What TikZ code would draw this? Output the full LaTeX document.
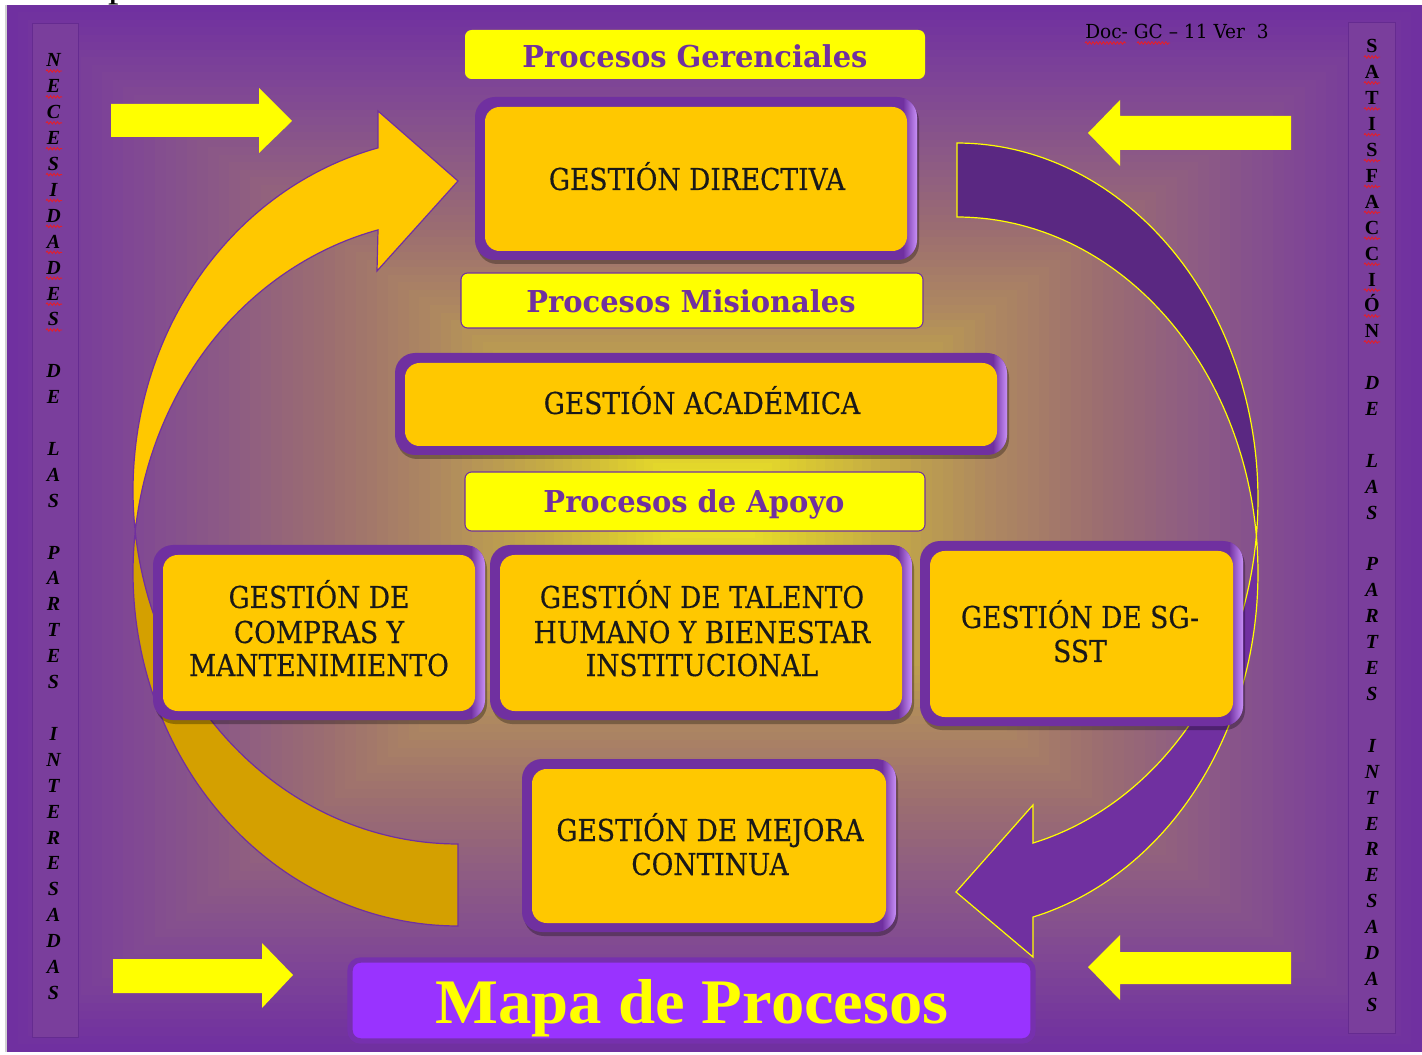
\documentclass[tikz,border=0pt]{standalone}
\usepackage{fontspec}
\usetikzlibrary{decorations.pathmorphing}
\newfontfamily\boxf[FakeStretch=0.88,FakeBold=0.35]{DejaVu Serif}
\newfontfamily\labf[FakeStretch=0.96]{DejaVu Serif}
\newfontfamily\docf[FakeStretch=0.96]{DejaVu Serif}
\newfontfamily\mapf[FakeStretch=1.05]{Liberation Serif}
\newfontfamily\sidef{Liberation Serif}
\definecolor{pur}{HTML}{7030A0}
\definecolor{purdark}{HTML}{5A2882}
\definecolor{purhi}{HTML}{C890F8}
\definecolor{yel}{HTML}{FFC800}
\definecolor{yeldark}{HTML}{D4A000}
\definecolor{lyel}{HTML}{FFFF00}
\definecolor{mapbg}{HTML}{9933FF}
\definecolor{stripc}{HTML}{7A3E9C}
\definecolor{wavy}{HTML}{E0202F}
\definecolor{bga}{HTML}{7030A0}
\definecolor{bgb}{HTML}{7E4596}
\definecolor{bgc}{HTML}{8C5A85}
\definecolor{bgd}{HTML}{9C6E70}
\definecolor{bge}{HTML}{AE8860}
\definecolor{bgf}{HTML}{C4AA45}
\definecolor{bgg}{HTML}{DCCC30}
\definecolor{bgh}{HTML}{F4F020}
\newcommand{\procbox}[4]{%
  \fill[black,opacity=0.3,rounded corners=15pt] (#1+2,#2+4) rectangle (#3+2,#4+4);
  \fill[pur,rounded corners=15pt] (#1,#2) rectangle (#3,#4);
  \begin{scope}
    \clip[rounded corners=15pt] (#1,#2) rectangle (#3,#4);
    \shade[left color=pur,right color=purhi] (#3-14,#2) rectangle (#3,#4);
  \end{scope}
  \fill[yel,rounded corners=11pt] (#1+10,#2+10) rectangle (#3-10,#4-9);
}
\tikzset{
  boxtxt/.style={anchor=base,inner sep=0,font=\boxf\fontsize{22.6}{25.5}\selectfont,text=black!90},
  labtxt/.style={anchor=base,inner sep=0,font=\labf\bfseries\fontsize{22.6}{25.5}\selectfont,text=pur},
  sidetxt/.style={anchor=base,inner sep=0,font=\sidef\bfseries\itshape\fontsize{15}{16}\selectfont,text=black},
  sideup/.style={anchor=base,inner sep=0,font=\sidef\bfseries\fontsize{15}{16}\selectfont,text=black},
  wave/.style={wavy,line width=0.7pt,decorate,decoration={snake,amplitude=0.9pt,segment length=2.6pt}},
  bigarrow/.style={fill=lyel},
  labbox/.style={fill=lyel,draw=pur,line width=0.8pt,rounded corners=5pt}
}
\begin{document}
\begin{tikzpicture}[x=0.75pt,y=-0.75pt]
\useasboundingbox (0,0) rectangle (1422,1055);
\fill[white] (0,0) rectangle (1422,1055);
% clipped fragment of a word at the top edge
\begin{scope}
  \clip (0,0) rectangle (1422,5);
  \node[anchor=base west,inner sep=0,font=\mapf\fontsize{30}{30}\selectfont] (ptop) at (108,-3.5) {p};
\end{scope}
\draw[line width=1.5pt,color=black!18] (6,5) -- (6,1052);
% background (rectangular gradient)
\foreach \fa/\fb/\ca/\cb in {1/0.85/bga/bgb,0.85/0.7/bgb/bgc,0.7/0.55/bgc/bgd,0.55/0.4/bgd/bge,0.4/0.25/bge/bgf,0.25/0.12/bgf/bgg,0.12/0/bgg/bgh}{
  \foreach \k in {0,...,9}{
    \pgfmathsetmacro\f{\fa-(\fa-\fb)*\k/10}
    \pgfmathtruncatemacro\p{\k*10}
    \fill[\cb!\p!\ca] ({712-705*\f},{505-500*\f}) rectangle ({712+710*\f},{505+547*\f});
  }
}
% side strips
\fill[stripc] (32,23) rectangle (78,1037);
\draw[pur!90!black,line width=0.5pt] (32,23) rectangle (78,1037);
\fill[stripc] (1348,22) rectangle (1395,1033);
\draw[pur!90!black,line width=0.5pt] (1348,22) rectangle (1395,1033);
% side letters
\foreach \l [count=\i from 0] in {N,E,C,E,S,I,D,A,D,E,S,,D,E,,L,A,S,,P,A,R,T,E,S,,I,N,T,E,R,E,S,A,D,A,S}{
  \node[sidetxt] (nl\i) at (53.5,{67+25.9*\i}) {\l};
  \ifnum\i<11 \draw[wave] (46,{71+25.9*\i}) -- (62,{71+25.9*\i}); \fi
}
\foreach \l [count=\i from 0] in {S,A,T,I,S,F,A,C,C,I,Ó,N}{
  \node[sideup] (nr\i) at (1372,{53+25.9*\i}) {\l};
  \draw[wave] (1364,{57+25.9*\i}) -- (1380,{57+25.9*\i});
}
\foreach \l [count=\i from 12] in {,D,E,,L,A,S,,P,A,R,T,E,S,,I,N,T,E,R,E,S,A,D,A,S}{
  \node[sidetxt] (nr\i) at (1372,{53+25.9*\i}) {\l};
}
% document code
\node[anchor=base west,inner sep=0,font=\docf\fontsize{14.5}{15}\selectfont] (doc) at (1085,39) {Doc- GC – 11 Ver\ \ 3};
\draw[wave] (1085,43) -- (1126,43);
\draw[wave] (1137,43) -- (1170,43);
% straight yellow arrows
\fill[bigarrow] (111,104) -- (259,104) -- (259,88) -- (292,121) -- (259,153) -- (259,137) -- (111,137) -- cycle;
\fill[bigarrow] (1291,116) -- (1120,116) -- (1120,100) -- (1088,133) -- (1120,166) -- (1120,150) -- (1291,150) -- cycle;
\fill[bigarrow] (113,959) -- (262,959) -- (262,943) -- (293,975) -- (262,1008) -- (262,993) -- (113,993) -- cycle;
\fill[bigarrow] (1291,952) -- (1120,952) -- (1120,935) -- (1088,967) -- (1120,1000) -- (1120,984) -- (1291,984) -- cycle;
% curved yellow arrow (left)
\filldraw[fill=yeldark,draw=pur,line width=0.9pt]
  plot[domain=186.66:90,samples=70] ({458+325*cos(\x)},{572.5+353.5*sin(\x)})
  -- plot[domain=90:173.34,samples=70] ({458+325*cos(\x)},{490.5+353.5*sin(\x)}) -- cycle;
\filldraw[fill=yel,draw=pur,line width=0.9pt]
  plot[domain=255.75:173.34,samples=70] ({458+325*cos(\x)},{490.5+353.5*sin(\x)})
  -- plot[domain=186.66:255.75,samples=70] ({458+325*cos(\x)},{572.5+353.5*sin(\x)})
  -- (377,271) -- (458,181) -- (378,111) -- cycle;
% curved purple arrow (right)
\filldraw[fill=purdark,draw=lyel,line width=0.9pt]
  plot[domain=270:365.97,samples=70] ({957+301*cos(\x)},{498.8+355.8*sin(\x)})
  -- plot[domain=354.03:270,samples=70] ({957+301*cos(\x)},{572.8+355.8*sin(\x)}) -- cycle;
\filldraw[fill=pur,draw=lyel,line width=0.9pt]
  plot[domain=-5.97:75.37,samples=70] ({957+301*cos(\x)},{572.8+355.8*sin(\x)})
  -- (1033,957) -- (956,892) -- (1033,805)
  -- plot[domain=75.37:5.97,samples=70] ({957+301*cos(\x)},{498.8+355.8*sin(\x)}) -- cycle;
% labels
\fill[lyel,rounded corners=5pt] (465,30) rectangle (925,79);
\node[labtxt] (lger) at (695,68) {Procesos Gerenciales};
\path[labbox] (461,273) rectangle (923,328);
\node[labtxt] (lmis) at (691,313) {Procesos Misionales};
\path[labbox] (465,472) rectangle (925,531);
\node[labtxt] (lapo) at (694,513) {Procesos de Apoyo};
% process boxes
\procbox{475}{97}{917}{260}
\node[boxtxt] (dir) at (697,190) {GESTIÓN DIRECTIVA};
\procbox{395}{353}{1007}{455}
\node[boxtxt] (aca) at (702,414) {GESTIÓN ACADÉMICA};
\procbox{153}{545}{485}{720}
\node[boxtxt] (com1) at (319,608) {GESTIÓN DE};
\node[boxtxt] (com2) at (319,643) {COMPRAS Y};
\node[boxtxt] (com3) at (319,676) {MANTENIMIENTO};
\procbox{490}{545}{912}{720}
\node[boxtxt] (tal1) at (702,608) {GESTIÓN DE TALENTO};
\node[boxtxt] (tal2) at (702,643) {HUMANO Y BIENESTAR};
\node[boxtxt] (tal3) at (702,676) {INSTITUCIONAL};
\procbox{920}{541}{1243}{726}
\node[boxtxt] (sst1) at (1080,628) {GESTIÓN DE SG-};
\node[boxtxt] (sst2) at (1080,662) {SST};
\procbox{522}{759}{896}{932}
\node[boxtxt] (mej1) at (710,841) {GESTIÓN DE MEJORA};
\node[boxtxt] (mej2) at (710,875) {CONTINUA};
% title
\filldraw[fill=mapbg,draw=pur!85!mapbg,line width=4pt,rounded corners=8pt] (350,960) rectangle (1033,1041);
\node[anchor=base,inner sep=0,font=\mapf\bfseries\fontsize{47.6}{50}\selectfont,text=lyel] (mapa) at (692,1023) {Mapa de Procesos};
\end{tikzpicture}
\end{document}
